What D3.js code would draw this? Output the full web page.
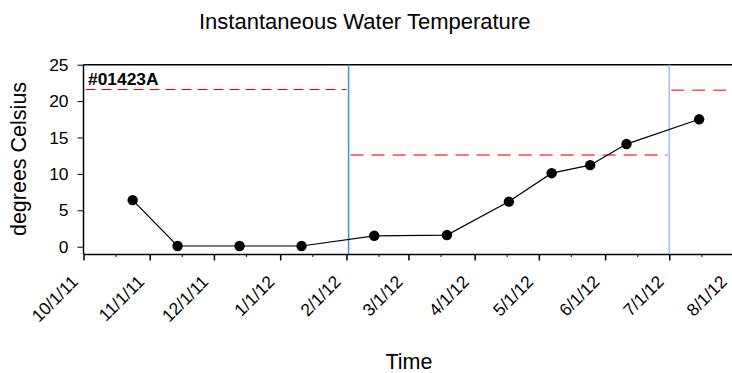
<!DOCTYPE html>
<html>
<head>
<meta charset="utf-8">
<script src="https://cdn.jsdelivr.net/npm/d3@7"></script>
<style>
  html, body { margin: 0; padding: 0; background: #fff; }
  svg { display: block; font-family: "Liberation Sans", Arial, sans-serif; }
</style>
</head>
<body>
<svg id="chart" width="732" height="373"></svg>
<script>
// Sampling dates and measured temperatures (°C)
const sampleDates = ["2011-10-24", "2011-11-14", "2011-12-13", "2012-01-11", "2012-02-14",
                     "2012-03-19", "2012-04-17", "2012-05-07", "2012-05-25", "2012-06-11", "2012-07-15"];
const temperatures = [6.4, 0.1, 0.1, 0.1, 1.5, 1.6, 6.2, 10.1, 11.2, 14.1, 17.5];

// Monthly tick labels on the time axis
const tickDates = ["2011-10-01", "2011-11-01", "2011-12-01", "2012-01-01", "2012-02-01", "2012-03-01",
                   "2012-04-01", "2012-05-01", "2012-06-01", "2012-07-01", "2012-08-01"];
const tickLabels = ["10/1/11", "11/1/11", "12/1/11", "1/1/12", "2/1/12", "3/1/12",
                    "4/1/12", "5/1/12", "6/1/12", "7/1/12", "8/1/12"];
// Mid-month minor ticks
const minorTickDates = ["2011-10-16", "2011-11-16", "2011-12-16", "2012-01-16", "2012-02-16",
                        "2012-03-16", "2012-04-16", "2012-05-16", "2012-06-16", "2012-07-16"];
const yTicks = [0, 5, 10, 15, 20, 25];

// Season boundaries and temperature criteria for each period
const seasonBreaks = ["2012-02-02", "2012-07-01"];
const criteriaStart = ["2011-10-01", "2012-02-02", "2012-07-01"];
const criteriaEnd = ["2012-02-02", "2012-07-01", "2012-08-10"];
const criteriaValues = [21.6, 12.6, 21.5];

const stationLabel = "#01423A";

const parse = d3.utcParse("%Y-%m-%d");
const svg = d3.select("#chart");

const x = d3.scaleUtc()
  .domain([parse("2011-10-01"), parse("2012-08-01")])
  .range([83.5, 735.5]);
const y = d3.scaleLinear().domain([-1, 25]).range([254, 64.7]);

const plotLeft = x.range()[0], plotBottom = y(-1), plotTop = y(25);

// Title and axis titles
svg.append("text").attr("x", 199).attr("y", 29).attr("text-anchor", "start")
  .attr("font-size", 22).attr("fill", "#000").text("Instantaneous Water Temperature");
svg.append("text").attr("transform", `translate(${26},${159}) rotate(-90)`).attr("text-anchor", "middle")
  .attr("font-size", 21.5).attr("fill", "#000").text("degrees Celsius");
svg.append("text").attr("x", 409).attr("y", 369).attr("text-anchor", "middle")
  .attr("font-size", 21.5).attr("fill", "#000").text("Time");

// Top frame line
svg.append("line").attr("x1", plotLeft).attr("x2", 732).attr("y1", plotTop).attr("y2", plotTop)
  .attr("stroke", "#000").attr("stroke-width", 1.5);

// Y axis
const yAxis = d3.axisLeft(y).tickValues(yTicks).tickSize(6).tickPadding(9).tickSizeOuter(0);
const gy = svg.append("g").attr("transform", `translate(${plotLeft},0)`).call(yAxis);
gy.select(".domain").attr("d", `M0,${plotTop}V${plotBottom}`).attr("stroke-width", 1.5);
gy.selectAll("text").attr("font-size", 17.4).attr("font-family", "Liberation Sans, Arial, sans-serif").attr("fill", "#000");

// X axis: minor ticks first, then labelled monthly ticks
const xMinor = d3.axisBottom(x).tickValues(minorTickDates.map(parse))
  .tickFormat("").tickSize(3).tickSizeOuter(0);
const gxm = svg.append("g").attr("transform", `translate(0,${plotBottom})`).call(xMinor);
gxm.select(".domain").remove();
gxm.selectAll(".tick line").attr("stroke", "#333").attr("stroke-width", 1.2);

const xAxis = d3.axisBottom(x).tickValues(tickDates.map(parse))
  .tickFormat((d, i) => tickLabels[i]).tickSize(6.5).tickSizeOuter(0);
const gx = svg.append("g").attr("transform", `translate(0,${plotBottom})`).call(xAxis);
gx.select(".domain").attr("stroke-width", 1.5);
gx.selectAll(".tick line").attr("stroke-width", 1.5);
gx.selectAll("text")
  .attr("font-size", 17.4).attr("font-family", "Liberation Sans, Arial, sans-serif").attr("fill", "#000")
  .attr("text-anchor", "end").attr("dy", null).attr("y", 0)
  .attr("transform", (d, i) => `translate(${i === tickDates.length - 1 ? -8 : -5},29) rotate(-45)`);

// Season boundary lines
const breakColors = ["#4a86ff", "#9dbdff"];
svg.selectAll(".season").data(seasonBreaks).join("line")
  .attr("x1", d => x(parse(d))).attr("x2", d => x(parse(d)))
  .attr("y1", plotTop).attr("y2", plotBottom)
  .attr("stroke", (d, i) => breakColors[i]).attr("stroke-width", 1.5);

// Criteria lines
const critStyles = [
  { color: "#e00000", width: 1, dash: "10,6" },
  { color: "#ff7070", width: 2, dash: "13,8" },
  { color: "#ff5050", width: 1.5, dash: "13,8" }
];
svg.selectAll(".crit").data(criteriaValues).join("line")
  .attr("x1", (d, i) => x(parse(criteriaStart[i])) + 2)
  .attr("x2", (d, i) => x(parse(criteriaEnd[i])) - 2)
  .attr("y1", d => y(d)).attr("y2", d => y(d))
  .attr("stroke", (d, i) => critStyles[i].color)
  .attr("stroke-width", (d, i) => critStyles[i].width)
  .attr("stroke-dasharray", (d, i) => critStyles[i].dash);

// Station label
svg.append("text").attr("x", 88).attr("y", 85).attr("font-size", 17.4).attr("font-weight", "bold")
  .attr("fill", "#000").text(stationLabel);

// Temperature series
const points = sampleDates.map((d, i) => ({ date: parse(d), value: temperatures[i] }));
svg.append("path").datum(points)
  .attr("fill", "none").attr("stroke", "#000").attr("stroke-width", 1.2)
  .attr("d", d3.line().x(d => x(d.date)).y(d => y(d.value)));
svg.selectAll(".pt").data(points).join("circle")
  .attr("cx", d => x(d.date)).attr("cy", d => y(d.value)).attr("r", 5.2).attr("fill", "#000");
</script>
</body>
</html>
